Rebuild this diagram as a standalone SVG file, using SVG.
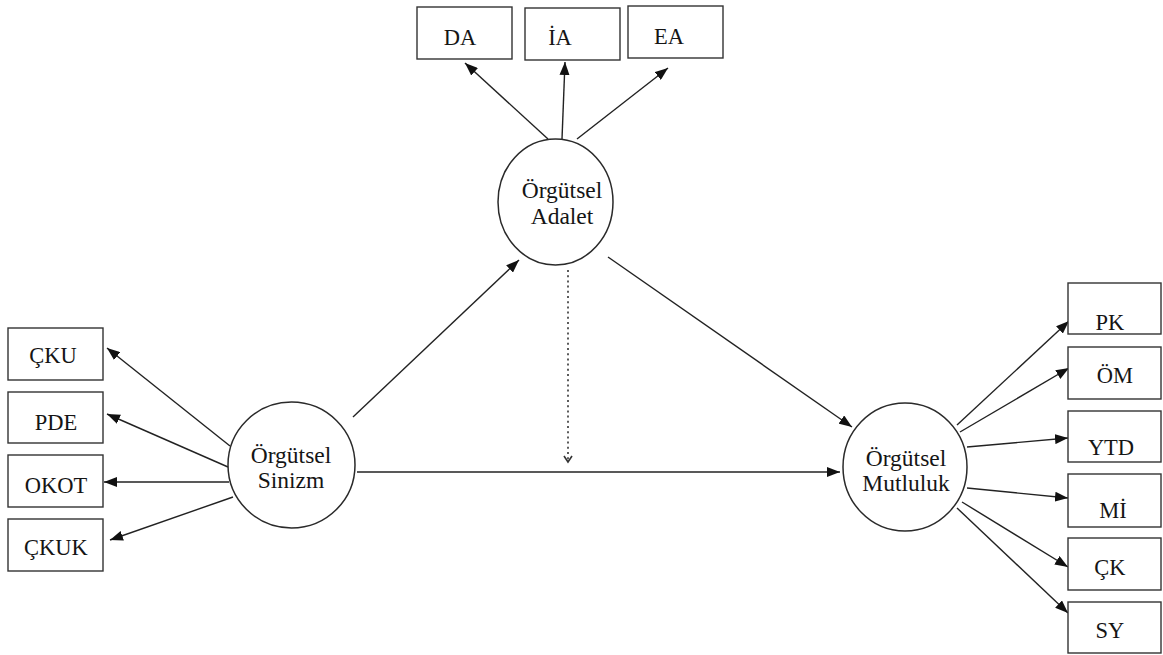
<svg xmlns="http://www.w3.org/2000/svg" width="1163" height="655" viewBox="0 0 1163 655">
  <style>
    .box { fill: #ffffff; stroke: #333333; stroke-width: 1.4; }
    .latent { fill: #ffffff; stroke: #2a2a2a; stroke-width: 1.5; }
    .lbl { font-size: 22.5px; fill: #151515; text-anchor: middle; }
    .big { font-size: 23.5px; }
    .edge { stroke: #222222; stroke-width: 1.4; fill: none; marker-end: url(#head); }
    .dotted { stroke: #333333; stroke-width: 1.6; fill: none; stroke-dasharray: 2 3.2; marker-end: url(#openhead); }
  </style>
  <defs>
    <marker id="head" markerUnits="userSpaceOnUse" markerWidth="14" markerHeight="10" refX="13" refY="5" orient="auto">
      <path d="M0,0 L13,5 L0,10 Z" fill="#111111"/>
    </marker>
    <marker id="openhead" markerUnits="userSpaceOnUse" markerWidth="10" markerHeight="10" refX="7" refY="5" orient="auto">
      <path d="M1,1 L7,5 L1,9" fill="none" stroke="#333333" stroke-width="1.6"/>
    </marker>
  </defs>
  <rect width="1163" height="655" fill="#ffffff"/>

  <!-- connectors -->
  <g id="connectors">
    <!-- Örgütsel Adalet indicators -->
    <line class="edge" x1="548" y1="139" x2="465" y2="63"/>
    <line class="edge" x1="562" y1="139" x2="565" y2="62"/>
    <line class="edge" x1="577" y1="139" x2="668" y2="68"/>
    <!-- Örgütsel Sinizm indicators -->
    <line class="edge" x1="230" y1="446" x2="107" y2="348"/>
    <line class="edge" x1="228" y1="467" x2="107" y2="414"/>
    <line class="edge" x1="229" y1="482" x2="104" y2="482"/>
    <line class="edge" x1="233" y1="497" x2="110" y2="540"/>
    <!-- structural paths -->
    <line class="edge" x1="353" y1="417" x2="519" y2="260"/>
    <line class="edge" x1="608" y1="257" x2="852" y2="427"/>
    <line class="edge" x1="357" y1="472" x2="840" y2="472"/>
    <line class="dotted" x1="568" y1="270" x2="568" y2="462"/>
    <!-- Örgütsel Mutluluk indicators -->
    <line class="edge" x1="957" y1="425" x2="1069" y2="321"/>
    <line class="edge" x1="960" y1="432" x2="1069" y2="368"/>
    <line class="edge" x1="967" y1="447" x2="1068" y2="438"/>
    <line class="edge" x1="967" y1="488" x2="1068" y2="498"/>
    <line class="edge" x1="962" y1="502" x2="1068" y2="567"/>
    <line class="edge" x1="957" y1="508" x2="1068" y2="613"/>
  </g>

  <g font-family="Liberation Serif, DejaVu Serif, serif">
  <!-- latent constructs -->
  <g id="orgutsel-adalet">
    <ellipse class="latent" cx="555.5" cy="202" rx="57.5" ry="63"/>
    <text class="lbl big" x="562" y="198">Örgütsel</text>
    <text class="lbl big" x="562" y="224">Adalet</text>
  </g>
  <g id="orgutsel-sinizm">
    <ellipse class="latent" cx="291.5" cy="465" rx="63.5" ry="63"/>
    <text class="lbl big" x="291" y="463">Örgütsel</text>
    <text class="lbl big" x="291" y="488">Sinizm</text>
  </g>
  <g id="orgutsel-mutluluk">
    <ellipse class="latent" cx="905" cy="467" rx="62" ry="64"/>
    <text class="lbl big" x="906" y="466">Örgütsel</text>
    <text class="lbl big" x="906" y="491">Mutluluk</text>
  </g>

  <!-- Adalet indicators -->
  <g id="DA">
    <rect class="box" x="417" y="7" width="95" height="52"/>
    <text class="lbl" x="460" y="45">DA</text>
  </g>
  <g id="IA">
    <rect class="box" x="525" y="8" width="95" height="52"/>
    <text class="lbl" x="560" y="45">İA</text>
  </g>
  <g id="EA">
    <rect class="box" x="628" y="6" width="95" height="52"/>
    <text class="lbl" x="669" y="44">EA</text>
  </g>

  <!-- Sinizm indicators -->
  <g id="CKU">
    <rect class="box" x="8" y="328" width="95" height="52"/>
    <text class="lbl" x="53" y="363">ÇKU</text>
  </g>
  <g id="PDE">
    <rect class="box" x="8" y="392" width="95" height="51"/>
    <text class="lbl" x="56" y="430">PDE</text>
  </g>
  <g id="OKOT">
    <rect class="box" x="8" y="455" width="95" height="52"/>
    <text class="lbl" x="56" y="493">OKOT</text>
  </g>
  <g id="CKUK">
    <rect class="box" x="8" y="519" width="95" height="52"/>
    <text class="lbl" x="56" y="555">ÇKUK</text>
  </g>

  <!-- Mutluluk indicators -->
  <g id="PK">
    <rect class="box" x="1068" y="283" width="93" height="51"/>
    <text class="lbl" x="1110" y="330">PK</text>
  </g>
  <g id="OM">
    <rect class="box" x="1068" y="347" width="93" height="52"/>
    <text class="lbl" x="1115" y="383">ÖM</text>
  </g>
  <g id="YTD">
    <rect class="box" x="1068" y="411" width="93" height="51"/>
    <text class="lbl" x="1111" y="455">YTD</text>
  </g>
  <g id="MI">
    <rect class="box" x="1068" y="474" width="93" height="53"/>
    <text class="lbl" x="1113" y="518">Mİ</text>
  </g>
  <g id="CK">
    <rect class="box" x="1068" y="538" width="93" height="52"/>
    <text class="lbl" x="1110" y="575">ÇK</text>
  </g>
  <g id="SY">
    <rect class="box" x="1068" y="602" width="93" height="51"/>
    <text class="lbl" x="1110" y="638">SY</text>
  </g>
  </g>
</svg>
